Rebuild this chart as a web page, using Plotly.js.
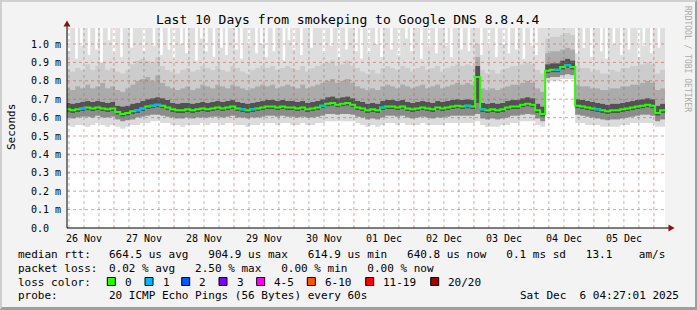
<!DOCTYPE html>
<html>
<head>
<meta charset="utf-8">
<script src="https://cdn.plot.ly/plotly-3.0.1.min.js"></script>
<style>
  html, body { margin: 0; padding: 0; background: #f3f3f3; }
  #wrap { position: relative; width: 697px; height: 310px; }
  #chart { width: 697px; height: 310px; }
  #frame { position: absolute; left: 0; top: 0; width: 697px; height: 310px; box-sizing: border-box;
           border-style: solid; border-width: 2px 2px 3px 2px;
           border-color: #cfcfcf #9e9e9e #9e9e9e #cfcfcf; pointer-events: none; }
</style>
</head>
<body>
<div id="wrap"><div id="chart"></div><div id="frame"></div></div>
<script>
// ---- data, 2-hour buckets starting 26 Nov 04:30 ----
const median = [0.645,0.64,0.645,0.65,0.655,0.65,0.655,0.65,0.645,0.65,
0.63,0.62,0.625,0.635,0.64,0.65,0.66,0.665,0.67,0.665,
0.655,0.645,0.64,0.64,0.645,0.64,0.645,0.65,0.645,0.65,
0.655,0.65,0.655,0.66,0.65,0.645,0.64,0.645,0.65,0.655,
0.66,0.66,0.655,0.66,0.655,0.655,0.65,0.655,0.645,0.65,
0.655,0.665,0.675,0.68,0.67,0.675,0.68,0.67,0.655,0.65,
0.64,0.645,0.64,0.655,0.66,0.66,0.655,0.66,0.65,0.645,
0.65,0.655,0.65,0.645,0.655,0.65,0.655,0.66,0.665,0.66,
0.665,0.66,0.82,0.645,0.64,0.645,0.64,0.645,0.655,0.66,
0.66,0.67,0.675,0.67,0.64,0.62,0.855,0.86,0.86,0.875,
0.885,0.875,0.665,0.66,0.655,0.65,0.645,0.64,0.635,0.64,
0.64,0.645,0.65,0.655,0.66,0.665,0.67,0.665,0.625,0.64,
0.64];

// smoke: lowest ping
const smokeMin = [0.56,0.55,0.56,0.56,0.55,0.56,0.57,0.56,0.55,0.56,
0.55,0.54,0.55,0.56,0.56,0.57,0.57,0.58,0.58,0.57,
0.57,0.56,0.56,0.55,0.56,0.56,0.56,0.57,0.56,0.57,
0.57,0.56,0.57,0.57,0.56,0.56,0.55,0.56,0.56,0.57,
0.57,0.57,0.56,0.57,0.57,0.56,0.56,0.57,0.56,0.56,
0.57,0.57,0.58,0.58,0.58,0.58,0.58,0.58,0.57,0.56,
0.55,0.56,0.55,0.56,0.57,0.57,0.56,0.57,0.56,0.56,
0.56,0.57,0.56,0.56,0.56,0.56,0.57,0.57,0.57,0.57,
0.57,0.57,0.58,0.56,0.55,0.55,0.55,0.56,0.56,0.57,
0.57,0.58,0.58,0.58,0.56,0.55,0.79,0.8,0.8,0.81,
0.81,0.81,0.57,0.57,0.56,0.56,0.56,0.55,0.55,0.55,
0.55,0.56,0.56,0.57,0.57,0.57,0.57,0.57,0.55,0.55,
0.56];

const smokeLow = [0.6,0.595,0.6,0.605,0.605,0.6,0.61,0.6,0.6,0.605,
0.59,0.58,0.585,0.59,0.6,0.605,0.61,0.615,0.615,0.61,
0.605,0.6,0.595,0.595,0.6,0.595,0.6,0.6,0.6,0.605,
0.605,0.6,0.605,0.61,0.6,0.6,0.595,0.6,0.6,0.605,
0.61,0.61,0.605,0.61,0.605,0.605,0.6,0.605,0.6,0.6,
0.605,0.61,0.62,0.62,0.615,0.62,0.62,0.615,0.605,0.6,
0.59,0.595,0.59,0.6,0.61,0.61,0.605,0.61,0.6,0.595,
0.6,0.605,0.6,0.595,0.6,0.6,0.605,0.61,0.61,0.61,
0.61,0.61,0.62,0.595,0.59,0.595,0.59,0.595,0.6,0.61,
0.61,0.615,0.62,0.615,0.595,0.58,0.815,0.82,0.82,0.83,
0.835,0.83,0.615,0.61,0.605,0.6,0.595,0.59,0.585,0.59,
0.59,0.595,0.6,0.605,0.61,0.615,0.615,0.61,0.58,0.59,
0.59];

const smokeMidLow = [0.63,0.625,0.63,0.635,0.64,0.635,0.64,0.635,0.63,0.635,
0.615,0.605,0.61,0.62,0.625,0.635,0.645,0.65,0.655,0.65,
0.64,0.63,0.625,0.625,0.63,0.625,0.63,0.635,0.63,0.635,
0.64,0.635,0.64,0.645,0.635,0.63,0.625,0.63,0.635,0.64,
0.645,0.645,0.64,0.645,0.64,0.64,0.635,0.64,0.63,0.635,
0.64,0.65,0.66,0.665,0.655,0.66,0.665,0.655,0.64,0.635,
0.625,0.63,0.625,0.64,0.645,0.645,0.64,0.645,0.635,0.63,
0.635,0.64,0.635,0.63,0.64,0.635,0.64,0.645,0.65,0.645,
0.65,0.645,0.68,0.63,0.625,0.63,0.625,0.63,0.64,0.645,
0.645,0.655,0.66,0.655,0.625,0.605,0.84,0.845,0.845,0.86,
0.87,0.86,0.65,0.645,0.64,0.635,0.63,0.625,0.62,0.625,
0.625,0.63,0.635,0.64,0.645,0.65,0.655,0.65,0.61,0.625,
0.625];

const smokeMidHigh = [0.68,0.675,0.68,0.685,0.69,0.685,0.69,0.685,0.68,0.685,
0.665,0.66,0.665,0.675,0.68,0.69,0.7,0.705,0.71,0.705,
0.695,0.68,0.675,0.68,0.68,0.675,0.68,0.685,0.68,0.685,
0.69,0.685,0.69,0.695,0.685,0.68,0.675,0.68,0.685,0.69,
0.695,0.695,0.69,0.695,0.69,0.69,0.685,0.69,0.68,0.685,
0.69,0.7,0.71,0.715,0.705,0.71,0.715,0.705,0.69,0.685,
0.675,0.68,0.675,0.69,0.695,0.695,0.69,0.695,0.685,0.68,
0.685,0.69,0.685,0.68,0.69,0.685,0.69,0.695,0.7,0.695,
0.7,0.695,0.88,0.68,0.675,0.68,0.675,0.68,0.69,0.695,
0.695,0.705,0.71,0.705,0.675,0.66,0.89,0.895,0.895,0.91,
0.92,0.91,0.7,0.695,0.69,0.685,0.68,0.675,0.67,0.675,
0.675,0.68,0.685,0.69,0.695,0.7,0.705,0.7,0.665,0.675,
0.675];

const smokeHigh = [0.76,0.75,0.77,0.76,0.78,0.76,0.77,0.79,0.76,0.77,
0.75,0.74,0.76,0.78,0.8,0.81,0.82,0.8,0.83,0.79,
0.77,0.76,0.75,0.76,0.77,0.75,0.76,0.78,0.77,0.76,
0.78,0.77,0.76,0.78,0.77,0.76,0.75,0.76,0.77,0.78,
0.77,0.78,0.76,0.77,0.78,0.77,0.76,0.78,0.76,0.77,
0.78,0.79,0.8,0.81,0.79,0.8,0.81,0.79,0.77,0.76,
0.75,0.76,0.75,0.77,0.78,0.77,0.76,0.78,0.77,0.76,
0.77,0.78,0.76,0.77,0.78,0.76,0.77,0.78,0.79,0.78,
0.79,0.78,0.93,0.76,0.75,0.76,0.75,0.76,0.77,0.78,
0.78,0.79,0.8,0.79,0.76,0.74,0.95,0.96,0.96,0.97,
0.98,0.97,0.78,0.77,0.77,0.76,0.76,0.75,0.75,0.76,
0.76,0.77,0.77,0.78,0.78,0.79,0.8,0.79,0.75,0.76,
0.76];

const smokeUpper = [0.86,0.85,0.87,0.86,0.89,0.86,0.88,0.9,0.86,0.87,
0.85,0.84,0.86,0.89,0.91,0.92,0.91,0.9,0.93,0.88,
0.86,0.85,0.84,0.86,0.87,0.85,0.86,0.88,0.87,0.86,
0.88,0.86,0.85,0.88,0.87,0.85,0.84,0.86,0.87,0.88,
0.87,0.88,0.86,0.87,0.88,0.87,0.86,0.88,0.85,0.87,
0.88,0.89,0.9,0.91,0.88,0.89,0.91,0.88,0.87,0.85,
0.84,0.86,0.84,0.87,0.88,0.87,0.86,0.88,0.87,0.85,
0.87,0.88,0.86,0.87,0.88,0.85,0.87,0.88,0.89,0.88,
0.89,0.88,1.0,0.86,0.84,0.86,0.84,0.86,0.87,0.88,
0.88,0.89,0.9,0.89,0.86,0.84,1.03,1.04,1.04,1.05,
1.06,1.05,0.88,0.87,0.87,0.85,0.86,0.84,0.84,0.86,
0.85,0.87,0.87,0.88,0.88,0.89,0.9,0.89,0.84,0.86,
0.86];

// highest ping, 1-hour buckets starting 26 Nov 04:30
const smokeMax = [1.1,0.96,1.1,1.1,0.92,1.1,0.99,1.1,1.1,0.94,1.1,1.1,0.97,1.1,0.9,1.1,1.1,1.02,1.1,0.95,
1.1,1.1,0.93,1.1,1.1,1.1,0.98,1.1,1.1,1.1,1.1,0.96,1.1,1.1,1.1,0.99,1.1,1.1,0.94,1.1,
1.1,0.97,1.1,0.92,1.1,1.1,1.0,1.1,0.95,1.1,1.1,1.1,0.91,1.1,1.03,1.1,0.96,1.1,1.1,0.93,
1.1,1.1,0.98,1.1,0.94,1.1,1.1,1.1,0.97,1.1,0.92,1.1,1.1,0.99,1.1,1.1,0.95,1.1,1.0,1.1,
0.93,1.1,1.1,0.96,1.1,1.1,1.1,0.91,1.1,1.02,1.1,0.97,1.1,1.1,0.94,1.1,1.1,1.1,0.98,1.1,
1.1,1.1,1.1,0.95,1.1,1.1,0.99,1.1,1.1,0.93,1.1,1.1,0.97,1.1,1.1,1.1,0.96,1.1,0.92,1.1,
1.1,0.95,1.1,1.1,1.0,1.1,0.93,1.1,1.1,1.1,0.97,1.1,1.1,0.94,1.1,1.1,1.03,1.1,0.96,1.1,
1.1,1.1,0.92,1.1,1.1,0.98,1.1,1.1,0.95,1.1,1.1,1.1,0.99,1.1,0.93,1.1,1.1,1.1,0.97,1.1,
1.1,0.96,1.1,1.1,1.1,1.1,0.94,1.1,1.1,0.98,1.1,1.1,0.93,1.1,1.1,1.0,1.1,0.95,1.1,1.1,
0.97,1.1,1.1,0.92,1.1,1.1,0.99,1.1,0.94,1.1,1.1,1.1,1.1,1.1,1.1,1.1,1.1,1.1,1.1,1.1,
1.1,1.1,1.1,1.1,0.95,1.1,1.1,0.98,1.1,1.1,0.93,1.1,1.1,1.1,0.96,1.1,0.92,1.1,1.1,1.0,
1.1,1.1,0.94,1.1,1.1,0.97,1.1,1.1,1.1,0.93,1.1,0.99,1.1,1.1,0.95,1.1,1.1,0.98,1.1,1.1,
1.1];

// lost pings (of 20) per 2-hour bucket
const lostPings = [0,0,0,1,0,0,0,0,0,0,
0,0,0,0,1,1,0,1,1,0,
0,0,0,0,0,0,0,0,0,0,
0,0,0,0,0,1,0,1,0,0,
0,0,0,0,0,0,0,0,0,0,
0,1,0,0,0,0,0,0,0,0,
0,0,0,1,0,0,0,0,0,0,
0,0,0,0,0,0,0,0,0,0,
1,0,0,1,0,0,0,0,0,0,
0,0,0,0,0,0,0,0,1,0,
1,0,0,0,0,0,1,0,0,0,
0,0,0,0,0,0,0,0,0,0,
0];

const dayLabels = ['26 Nov','27 Nov','28 Nov','29 Nov','30 Nov','01 Dec','02 Dec','03 Dec','04 Dec','05 Dec'];
const dayDates = ['2025-11-26','2025-11-27','2025-11-28','2025-11-29','2025-11-30',
                  '2025-12-01','2025-12-02','2025-12-03','2025-12-04','2025-12-05','2025-12-06'];
const yTickVals = [0,0.1,0.2,0.3,0.4,0.5,0.6,0.7,0.8,0.9,1.0];
const yTickText = ['0.0  ','0.1 m','0.2 m','0.3 m','0.4 m','0.5 m','0.6 m','0.7 m','0.8 m','0.9 m','1.0 m'];

const lossBuckets = ['0','1','2','3','4-5','6-10','11-19','20/20'];
const lossColors = ['#26ff00','#00b8ff','#0059ff','#7e00ff','#ff00ff','#ff5500','#ff0000','#a00000'];

const titleText = 'Last 10 Days from smokeping to Google DNS 8.8.4.4';
const statLines = [
  ['median rtt:', '664.5 us avg   904.9 us max   614.9 us min   640.8 us now   0.1 ms sd   13.1    am/s'],
  ['packet loss:', '0.02 % avg   2.50 % max   0.00 % min   0.00 % now'],
  ['loss color:', ''],
  ['probe:', '20 ICMP Echo Pings (56 Bytes) every 60s']
];
const stampText = 'Sat Dec  6 04:27:01 2025';

// ---- build ----
const t0 = Date.UTC(2025, 10, 26, 4, 30);
const stepMs = 2 * 3600 * 1000;
const fineMs = 3600 * 1000;
const times = median.map((_, i) => t0 + i * stepMs);
const timesFine = smokeMax.map((_, i) => t0 + i * fineMs);
const xRange = ['2025-11-26 05:12:36', '2025-12-06 04:27:01'];

const MONO = 'DejaVu Sans Mono, monospace';
const L = 67, T = 28, W = 598, H = 200;
const yTop = H / 184;
const PX = px => (px - L) / W;       // pixel -> paper x
const PY = py => (T + H - py) / H;   // pixel -> paper y
const nb = s => s.replace(/ /g, '\u00a0');

const midnights = dayDates.map(d => d + ' 00:00');
const noons = dayLabels.map((_, k) => dayDates[k] + ' 12:00');
const quarterLines = [];
dayDates.forEach(d => ['06:00', '12:00', '18:00'].forEach(h => quarterLines.push(d + ' ' + h)));

// grid line traces (drawn over the smoke, like rrdtool does)
function vGrid(vals) { const x = [], y = []; vals.forEach(v => { x.push(v, v, null); y.push(0, yTop, null); }); return {x, y}; }
function hGrid(vals) { const x = [], y = []; vals.forEach(v => { if (v > 0) { x.push(xRange[0], xRange[1], null); y.push(v, v, null); } }); return {x, y}; }

const bands = [
  [times, smokeMin, null],
  [times, smokeLow, 'rgba(0,0,0,0.14)'],
  [times, smokeMidLow, 'rgba(0,0,0,0.45)'],
  [times, smokeMidHigh, 'rgba(0,0,0,0.68)'],
  [times, smokeHigh, 'rgba(0,0,0,0.33)'],
  [times, smokeUpper, 'rgba(0,0,0,0.2)'],
  [timesFine, smokeMax, 'rgba(0,0,0,0.13)']
];
const traces = bands.map(([xs, arr, col], k) => ({
  x: xs, y: arr, type: 'scatter', mode: 'lines',
  line: {width: 0, shape: 'hv'},
  fill: k === 0 ? 'none' : 'tonexty', fillcolor: col || 'rgba(0,0,0,0)',
  hoverinfo: 'skip', showlegend: false
}));
const gq = vGrid(quarterLines), gm = vGrid(midnights), gh = hGrid(yTickVals);
traces.push({x: gq.x, y: gq.y, type: 'scatter', mode: 'lines', line: {color: 'rgba(120,120,120,0.5)', width: 1, dash: 'dot'},
  connectgaps: false, hoverinfo: 'skip', showlegend: false});
traces.push({x: gh.x, y: gh.y, type: 'scatter', mode: 'lines', line: {color: 'rgba(228,70,70,0.55)', width: 1, dash: 'dot'},
  connectgaps: false, hoverinfo: 'skip', showlegend: false});
traces.push({x: gm.x, y: gm.y, type: 'scatter', mode: 'lines', line: {color: 'rgba(228,70,70,0.55)', width: 1, dash: 'dot'},
  connectgaps: false, hoverinfo: 'skip', showlegend: false});
traces.push({
  x: times, y: median, type: 'scatter', mode: 'lines',
  line: {color: lossColors[0], width: 2, shape: 'hv'},
  hoverinfo: 'skip', showlegend: false
});
function bucketOf(n) {
  if (n <= 0) return 0; if (n <= 3) return n; if (n <= 5) return 4;
  if (n <= 10) return 5; if (n <= 19) return 6; return 7;
}
const lx = [], ly = [], lc = [];
lostPings.forEach((n, i) => { if (n > 0) { lx.push(times[i] + stepMs / 2); ly.push(median[i]); lc.push(lossColors[bucketOf(n)]); } });
traces.push({
  x: lx, y: ly, type: 'scatter', mode: 'markers',
  marker: {symbol: 'line-ew-open', size: 5, color: lc, line: {width: 2, color: lc}},
  hoverinfo: 'skip', showlegend: false
});

const annotations = [];
dayLabels.forEach((lab, k) => {
  annotations.push({xref: 'x', yref: 'paper', x: noons[k], y: PY(238.5), text: lab, showarrow: false,
    xanchor: 'center', yanchor: 'middle', font: {family: MONO, size: 10, color: '#000'}});
});
annotations.push({xref: 'paper', yref: 'paper', x: PX(11), y: PY(127), text: 'Seconds', textangle: -90,
  showarrow: false, xanchor: 'center', yanchor: 'middle', font: {family: MONO, size: 11, color: '#000'}});
annotations.push({xref: 'paper', yref: 'paper', x: PX(688), y: PY(59), text: 'RRDTOOL / TOBI OETIKER', textangle: 90,
  showarrow: false, xanchor: 'center', yanchor: 'middle', font: {family: MONO, size: 8, color: '#aaaaaa'}});
const lineY = [254.7, 268.3, 282, 295.7];
statLines.forEach(([lab, val], k) => {
  annotations.push({xref: 'paper', yref: 'paper', x: PX(16), y: PY(lineY[k]), text: nb(lab), showarrow: false,
    xanchor: 'left', yanchor: 'middle', font: {family: MONO, size: 11, color: '#000'}});
  if (val) annotations.push({xref: 'paper', yref: 'paper', x: PX(107), y: PY(lineY[k]), text: nb(val), showarrow: false,
    xanchor: 'left', yanchor: 'middle', font: {family: MONO, size: 11, color: '#000'}});
});
annotations.push({xref: 'paper', yref: 'paper', x: PX(681), y: PY(lineY[3]), text: nb(stampText), showarrow: false,
  xanchor: 'right', yanchor: 'middle', font: {family: MONO, size: 11, color: '#000'}});

const boxX = [107.3, 145, 181.7, 219, 256.7, 307.3, 365.7, 430.7];
const shapes = [];
lossBuckets.forEach((b, k) => {
  shapes.push({type: 'rect', xref: 'paper', yref: 'paper', x0: PX(boxX[k]), x1: PX(boxX[k] + 8),
    y0: PY(277.5), y1: PY(285.5), fillcolor: lossColors[k], line: {color: '#000', width: 1}});
  annotations.push({xref: 'paper', yref: 'paper', x: PX(boxX[k] + 15.5), y: PY(lineY[2]), text: b, showarrow: false,
    xanchor: 'left', yanchor: 'middle', font: {family: MONO, size: 11, color: '#000'}});
});
// axis extensions and arrows
shapes.push({type: 'line', xref: 'paper', yref: 'paper', x0: PX(67), x1: PX(67), y0: PY(228), y1: PY(25), line: {color: '#000', width: 1}});
shapes.push({type: 'line', xref: 'paper', yref: 'paper', x0: PX(67), x1: PX(669), y0: PY(228), y1: PY(228), line: {color: '#000', width: 1}});
shapes.push({type: 'path', xref: 'paper', yref: 'paper', fillcolor: '#8b1010', line: {width: 0},
  path: `M ${PX(63.5)} ${PY(26.5)} L ${PX(67)} ${PY(20.5)} L ${PX(70.5)} ${PY(26.5)} Z`});
shapes.push({type: 'path', xref: 'paper', yref: 'paper', fillcolor: '#8b1010', line: {width: 0},
  path: `M ${PX(668.5)} ${PY(224.5)} L ${PX(674.5)} ${PY(228)} L ${PX(668.5)} ${PY(231.5)} Z`});

const layout = {
  width: 697, height: 310,
  margin: {l: L, r: 697 - L - W, t: T, b: 310 - T - H, pad: 0},
  paper_bgcolor: '#f3f3f3', plot_bgcolor: '#ffffff',
  showlegend: false,
  title: {text: titleText, xref: 'container', yref: 'container', x: 347.7 / 697, xanchor: 'center',
          y: 1 - 19.3 / 310, yanchor: 'middle', font: {family: MONO, size: 13, color: '#000'}},
  xaxis: {type: 'date', range: xRange, showticklabels: false, ticks: '', showgrid: false,
          showline: false, zeroline: false},
  yaxis: {range: [0, yTop], tickmode: 'array', tickvals: yTickVals, ticktext: yTickText.map(nb),
          showgrid: false, zeroline: false,
          showline: false, ticks: '', ticklabelstandoff: 5, tickfont: {family: MONO, size: 10, color: '#000'}},
  annotations: annotations,
  shapes: shapes
};

Plotly.newPlot('chart', traces, layout, {staticPlot: true, displayModeBar: false});
</script>
</body>
</html>
